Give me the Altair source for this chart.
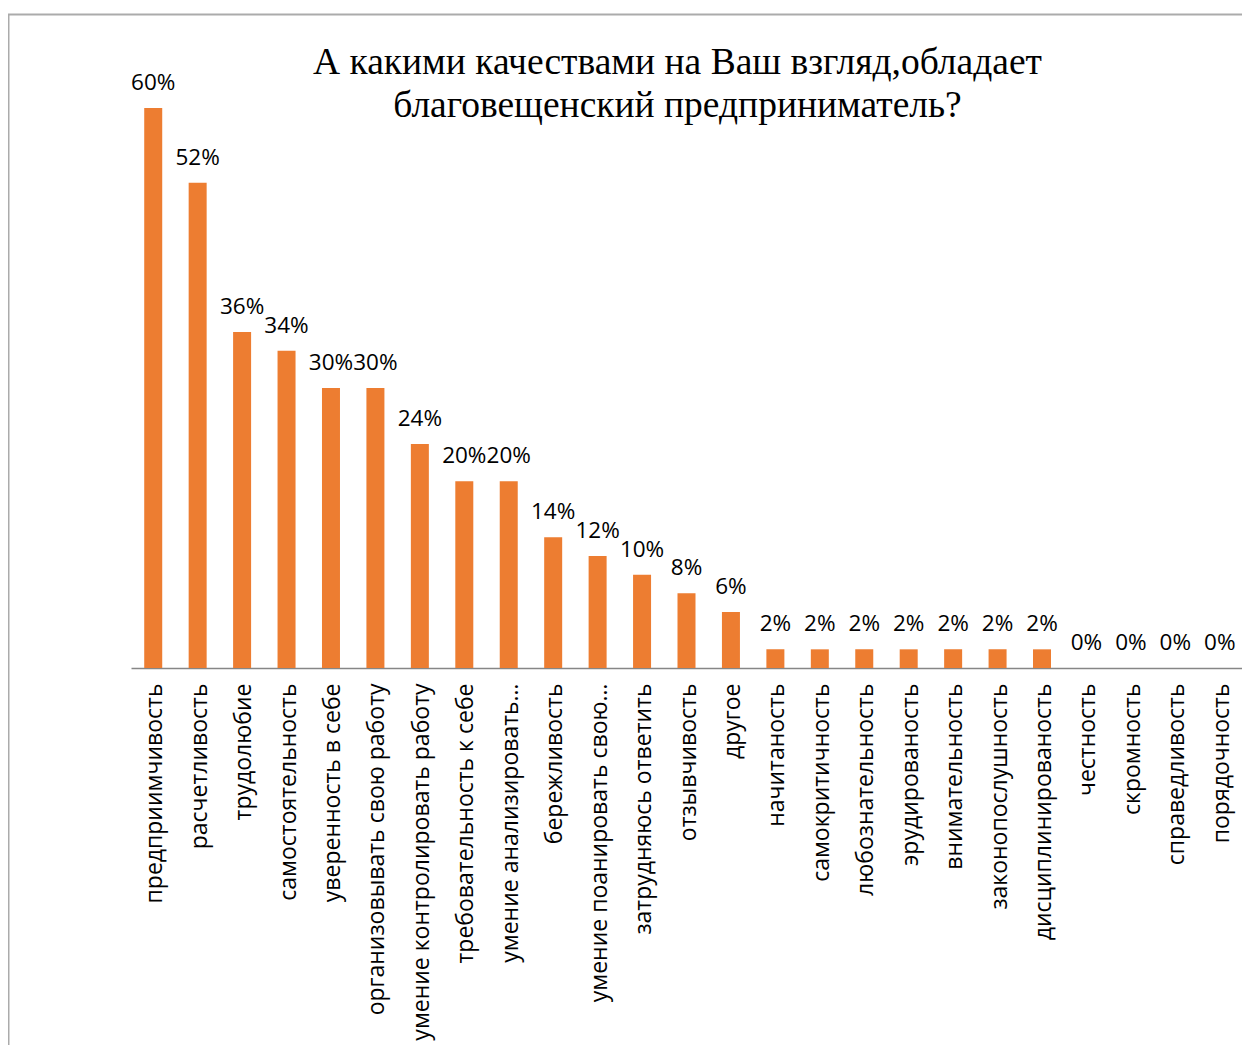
import altair as alt
import pandas as pd

categories = [
    "предприимчивость", "расчетливость", "трудолюбие", "самостоятельность",
    "уверенность в себе", "организовывать свою работу",
    "умение контролировать работу", "требовательность к себе",
    "умение анализировать…", "бережливость", "умение поанировать свою…",
    "затрудняюсь ответить", "отзывчивость", "другое", "начитаность",
    "самокритичность", "любознательность", "эрудированость", "внимательность",
    "законопослушность", "дисциплинированость", "честность", "скромность",
    "справедливость", "порядочность",
]
values = [0.60, 0.52, 0.36, 0.34, 0.30, 0.30, 0.24, 0.20, 0.20, 0.14, 0.12,
          0.10, 0.08, 0.06, 0.02, 0.02, 0.02, 0.02, 0.02, 0.02, 0.02,
          0.0, 0.0, 0.0, 0.0]
title_lines = ["А какими качествами на Ваш взгляд,обладает",
               "благовещенский предприниматель?"]

df = pd.DataFrame({"cat": categories, "val": values})

x = alt.X("cat:N", sort=None, title=None,
          scale=alt.Scale(paddingInner=0.595, paddingOuter=0.2975),
          axis=alt.Axis(labelAngle=-90, labelAlign="right", labelBaseline="middle",
                        labelFont="Open Sans", labelFontSize=23, labelColor="black",
                        labelPadding=15, labelOffset=2, ticks=False,
                        domainColor="#868686", domainWidth=1.5, labelLimit=0,
                        labelOverlap=False))
y = alt.Y("val:Q", title=None, scale=alt.Scale(domain=[0, 0.6], nice=False),
          axis=None)

base = alt.Chart(df)
bars = base.mark_bar(color="#ED7D31").encode(x=x, y=y)
labels = base.mark_text(dy=-18, baseline="alphabetic", font="Open Sans",
                        fontSize=22.5, color="black").encode(
    x=x, y=y, text=alt.Text("val:Q", format=".0%"))

frame = alt.Chart(pd.DataFrame({"a": [0]})).mark_rect(
    fillOpacity=0, stroke="#ababab", strokeWidth=2).encode(
    x=alt.value(-122.5), x2=alt.value(1300), y=alt.value(-93.5), y2=alt.value(1100))

chart = alt.layer(frame, bars, labels).properties(
    width=1111, height=560,
    autosize=alt.AutoSizeParams(type="none"),
    padding={"left": 123, "top": 100, "right": 0, "bottom": 377},
    title=alt.Title(title_lines, font="Liberation Serif", fontSize=37.5,
                    fontWeight="normal", color="black", anchor="middle",
                    frame="group", offset=0, dy=111, dx=-9, lineHeight=43),
).configure_view(stroke=None)

chart.save("out.html", embed_options={"renderer": "svg", "actions": False})
